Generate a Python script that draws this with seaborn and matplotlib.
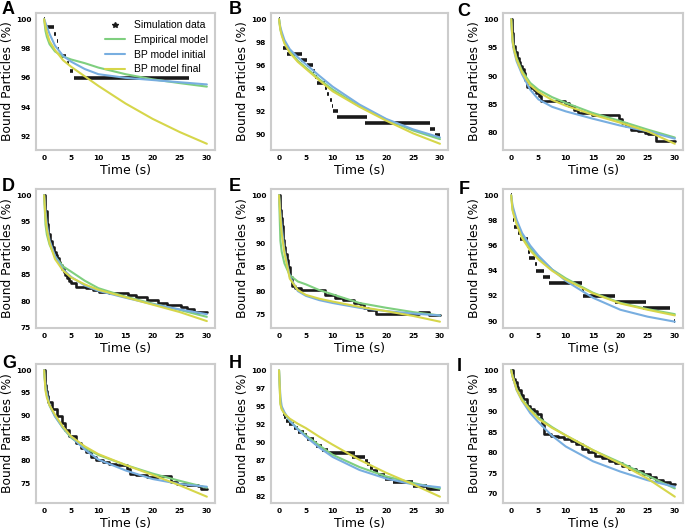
import matplotlib
matplotlib.use("Agg")
import matplotlib.pyplot as plt
from matplotlib.lines import Line2D
import seaborn as sns

# ---------------- data ----------------
T = [0, 0.25, 0.5, 1, 2, 3.5, 5, 7.5, 10, 15, 20, 25, 30]

# Panel A
a_emp = [100, 99.2, 98.8, 98.3, 97.8, 97.45, 97.25, 97.0, 96.7, 96.25, 95.9, 95.64, 95.4]
a_init = [100, 99.75, 99.5, 99.0, 98.2, 97.5, 97.1, 96.6, 96.25, 96.0, 95.85, 95.7, 95.55]
a_final = [100, 99.5, 99.1, 98.5, 97.9, 97.2, 96.75, 96.1, 95.45, 94.25, 93.2, 92.3, 91.5]
a_seg_start = [0, 0.4, 1.9, 2.3, 2.6, 3.1, 4.2, 4.7, 5.5]
a_seg_end = [0.2, 1.8, 2.1, 2.5, 2.8, 4.1, 4.6, 5.4, 26.7]
a_seg_level = [100, 99.5, 99, 98.5, 98, 97.5, 97, 96.5, 96]

# Panel B
b_emp = [100, 99.1, 98.7, 98.0, 97.2, 96.4, 95.8, 94.8, 93.9, 92.45, 91.3, 90.35, 89.6]
b_init = [100, 99.3, 98.9, 98.2, 97.4, 96.7, 96.1, 95.1, 94.15, 92.6, 91.35, 90.45, 89.75]
b_final = [100, 99.1, 98.6, 97.9, 97.1, 96.3, 95.7, 94.7, 93.75, 92.4, 91.2, 90.1, 89.2]
b_seg_start = [0, 0.2, 0.4, 0.55, 0.7, 1.4, 4.0, 5.2, 6.3, 6.7, 7.1, 8.6, 8.9, 9.5, 9.9, 10.1, 10.8, 16.0, 28.2, 29.1]
b_seg_end = [0.1, 0.35, 0.55, 0.7, 1.7, 4.2, 5.2, 6.3, 6.7, 7.0, 8.6, 8.9, 9.4, 9.8, 10.1, 10.9, 16.4, 28.2, 29.1, 30]
b_seg_level = [100, 99.5, 99, 98.5, 97.5, 97, 96.5, 96, 95.5, 95, 94.5, 94, 93.5, 93, 92.5, 92, 91.5, 91, 90.5, 90]

# Panel C
c_emp = [100, 96.5, 95.0, 93.2, 90.9, 88.8, 87.6, 86.3, 85.3, 83.5, 82.1, 80.6, 79.2]
c_init = [100, 96.0, 94.5, 92.6, 90.3, 87.6, 85.9, 84.6, 83.8, 82.5, 81.3, 80.3, 79.0]
c_final = [100, 96.2, 94.7, 92.9, 90.6, 88.4, 87.2, 85.8, 84.8, 83.2, 81.8, 80.3, 78.1]
c_sim_t = [0, 0.2, 0.4, 0.7, 1.1, 1.4, 1.7, 2.0, 2.3, 2.6, 2.9, 3.5, 4.2, 4.5, 5.1, 5.5, 9.8,
           10.6, 11.5, 12.3, 14.8, 19.8, 20.4, 21.0, 22.0, 23.3, 24.5, 25.0, 26.6, 30]
c_sim_y = [100, 97.5, 95.3, 94.2, 93.2, 92.5, 91.8, 91.2, 90.6, 89.4, 88.1, 87.9, 87.5, 87.0, 86.5,
           85.6, 85.3, 84.7, 84.0, 83.5, 83.2, 82.4, 81.8, 81.2, 80.6, 80.3, 80.0, 79.8, 78.5, 78.5]

# Panel D
d_emp = [100, 94.5, 92.6, 90.7, 88.5, 86.6, 85.6, 83.9, 82.5, 80.9, 79.6, 78.4, 77.1]
d_init = [100, 97.0, 94.5, 91.5, 88.6, 86.0, 84.6, 83.0, 82.0, 80.7, 79.5, 78.5, 77.6]
d_final = [100, 95.8, 93.6, 91.0, 88.0, 85.8, 84.5, 83.2, 82.2, 80.8, 79.4, 78.0, 76.3]
d_sim_t = [0, 0.25, 0.5, 0.8, 1.1, 1.4, 1.75, 2.1, 2.4, 2.7, 3.0, 3.3, 3.6, 3.9, 4.25, 4.6, 4.9,
           5.8, 7.7, 9.0, 10.2, 12.0, 15.5, 17.0, 19.0, 21.0, 22.7, 25.2, 26.4, 27.7, 30]
d_sim_y = [100, 97, 94.5, 92.8, 91.3, 90.3, 89.4, 88.8, 88.2, 87.5, 86.9, 86.2, 85.6, 85.0, 84.4,
           83.9, 83.4, 82.8, 82.5, 82.2, 81.8, 81.6, 81.3, 80.9, 80.3, 79.7, 79.3, 78.9, 78.5, 78.0, 78.0]

# Panel E
e_emp = [100, 90.5, 88.2, 85.8, 83.3, 82.0, 81.4, 80.2, 79.3, 77.5, 76.5, 75.6, 74.9]
e_init = [100, 96.5, 93.5, 88.5, 83.0, 80.0, 79.0, 78.1, 77.5, 76.5, 75.8, 75.3, 74.9]
e_final = [100, 95.5, 92.0, 88.0, 82.6, 80.2, 79.2, 78.4, 77.8, 76.7, 75.8, 74.8, 73.6]
e_sim_t = [0, 0.1, 0.2, 0.35, 0.5, 0.65, 0.8, 0.95, 1.1, 1.4, 1.7, 2.0, 2.4, 3.0, 4.0, 8.5, 10.5,
           12.0, 14.0, 15.0, 15.8, 16.6, 18.0, 26.0, 28.0, 30]
e_sim_y = [100, 98.5, 97, 95.2, 93.5, 92.0, 90.6, 89.2, 87.8, 86.4, 85, 82.9, 81.1, 80.6, 80.2,
           79.2, 78.6, 78.1, 77.6, 77.3, 76.4, 76.0, 75.3, 75.6, 75.1, 75.1]

# Panel F
f_emp = [100, 98.9, 98.5, 97.8, 96.8, 95.8, 95.1, 94.1, 93.4, 92.25, 91.45, 90.95, 90.55]
f_init = [100, 99.2, 98.8, 98.05, 97.0, 96.0, 95.2, 94.1, 93.2, 91.85, 90.9, 90.35, 89.95]
f_final = [100, 98.8, 98.4, 97.7, 96.6, 95.6, 94.9, 94.0, 93.3, 92.2, 91.4, 90.9, 90.45]
f_seg_start = [0, 0.1, 0.2, 0.3, 0.4, 0.5, 1.3, 1.6, 2.9, 3.0, 3.2, 4.4, 4.5, 5.9, 6.9, 12.9, 13.2, 19.0, 24.1, 29.9]
f_seg_end = [0.1, 0.2, 0.3, 0.4, 0.5, 1.3, 1.6, 3.0, 3.2, 3.4, 4.4, 4.75, 6.0, 7.1, 12.9, 13.4, 19.1, 24.8, 29.1, 30]
f_seg_level = [100, 99.5, 99, 98.5, 98, 97.5, 97, 96.5, 96, 95.5, 95, 94.5, 94, 93.5, 93, 92.5, 92, 91.5, 91, 90]

# Panel G
g_emp = [100, 96.0, 94.5, 92.2, 89.9, 87.2, 85.1, 82.9, 81.3, 79.1, 77.2, 75.6, 74.1]
g_init = [100, 96.5, 94.8, 92.3, 89.8, 87.3, 85.3, 82.5, 80.3, 77.9, 76.0, 74.9, 74.3]
g_final = [100, 95.5, 94.0, 92.3, 90.2, 87.5, 85.4, 83.2, 81.5, 79.1, 76.9, 74.6, 72.1]
g_sim_t = [0, 0.1, 0.2, 0.35, 0.5, 0.8, 1.4, 2.4, 3.3, 3.9, 4.6, 5.8, 6.75, 7.7, 8.6, 9.6, 10.8,
           12.0, 13.3, 15.2, 15.8, 17.0, 19.0, 21.0, 23.3, 24.5, 26.4, 28.3, 29.0, 30]
g_sim_y = [100, 98.5, 96.7, 95.5, 94.4, 93.0, 91.4, 89.9, 88.4, 86.9, 85.4, 83.9, 82.8, 82.0, 80.9,
           80.2, 79.8, 79.4, 79.1, 78.3, 77.2, 76.8, 76.4, 76.6, 75.3, 74.9, 74.7, 74.5, 73.8, 73.8]

# Panel H
h_emp = [100, 95.5, 94.7, 94.0, 93.0, 91.9, 91.0, 89.6, 88.3, 86.6, 85.3, 84.4, 83.6]
h_init = [100, 96.3, 95.0, 94.2, 93.0, 91.8, 90.8, 89.3, 88.0, 86.2, 85.0, 84.2, 83.8]
h_final = [100, 95.3, 94.6, 94.0, 93.3, 92.6, 92.0, 90.8, 89.7, 87.6, 85.8, 84.2, 82.5]
h_seg_start = [0, 0.05, 0.1, 0.15, 0.2, 0.25, 0.3, 0.5, 0.7, 1.0, 1.3, 1.9, 2.8, 3.6, 4.6, 5.3, 6.5,
               6.8, 8.0, 9.2, 13.6, 16.0, 16.4, 17.0, 17.6, 18.5, 19.8, 21.3, 25.0, 27.4]
h_seg_end = [0.05, 0.1, 0.15, 0.2, 0.25, 0.3, 0.5, 0.7, 1.0, 1.3, 1.9, 2.8, 3.6, 4.6, 5.3, 6.5, 7.0,
             8.0, 9.2, 14.2, 16.0, 16.6, 17.0, 17.6, 18.5, 19.8, 21.3, 25.0, 27.6, 30]
h_seg_level = [100, 99, 98, 97, 96, 95.5, 95, 94.5, 94, 93.5, 93, 92.5, 92, 91.5, 91, 90.5, 90,
               89.5, 89, 88.5, 88, 87.5, 87, 86.5, 86, 85.5, 85, 84.5, 84, 83.5]
h_yticks = [100, 97.5, 95, 92.5, 90, 87.5, 85, 82.5]
h_yticklabels = ["100", "97", "95", "92", "90", "87", "85", "82"]

# Panel I
i_emp = [100, 98.6, 97.6, 95.5, 93.0, 90.5, 88.5, 86.2, 84.2, 80.6, 77.6, 74.4, 71.3]
i_init = [100, 98.5, 97.4, 95.2, 92.6, 89.6, 87.4, 84.1, 81.5, 77.9, 75.4, 73.3, 71.7]
i_final = [100, 98.5, 97.5, 95.3, 92.7, 90.3, 88.2, 86.0, 84.2, 80.6, 77.3, 73.7, 69.3]
i_sim_t = [0, 0.25, 0.7, 1.0, 1.3, 1.8, 2.25, 2.9, 3.5, 4.1, 4.75, 5.4, 5.7, 6.0, 7.25, 8.5, 9.75,
           11.0, 11.9, 12.9, 14.1, 15.4, 16.6, 17.9, 19.1, 20.4, 21.6, 22.9, 24.1, 25.4, 26.6, 27.9, 29.1, 30]
i_sim_y = [100, 98, 97.1, 96, 95.1, 94.1, 93.1, 91.4, 90.6, 90.2, 89.4, 88.2, 86.6, 84.5, 84.1, 83.7,
           83.3, 82.9, 82.1, 80.9, 80.1, 79.2, 78.8, 78.0, 77.4, 76.8, 76.1, 75.6, 74.8, 74.0, 73.3,
           72.8, 72.3, 72.3]

x_ticks = [0, 5, 10, 15, 20, 25, 30]
yticks_2 = [92, 94, 96, 98, 100]
yticks_b = [90, 92, 94, 96, 98, 100]
yticks_5c = [80, 85, 90, 95, 100]
yticks_5d = [75, 80, 85, 90, 95, 100]
yticks_5i = [70, 75, 80, 85, 90, 95, 100]

legend_labels = ["Simulation data", "Empirical model", "BP model initial", "BP model final"]
x_label = "Time (s)"
y_label = "Bound Particles (%)"

# ---------------- style ----------------
sns.set_style("white")
plt.rcParams['font.family'] = ['DejaVu Sans']
plt.rcParams['text.color'] = 'black'
plt.rcParams['axes.labelcolor'] = 'black'
plt.rcParams['xtick.color'] = 'black'
plt.rcParams['ytick.color'] = 'black'

C_EMP = "#7fcf7f"
C_INIT = "#78aee0"
C_FINAL = "#d6d64a"
C_SIM = "#1a1a1a"

panels = [
    ("A", a_emp, a_init, a_final, ("seg", a_seg_start, a_seg_end, a_seg_level), yticks_2, None),
    ("B", b_emp, b_init, b_final, ("seg", b_seg_start, b_seg_end, b_seg_level), yticks_b, None),
    ("C", c_emp, c_init, c_final, ("step", c_sim_t, c_sim_y), yticks_5c, None),
    ("D", d_emp, d_init, d_final, ("step", d_sim_t, d_sim_y), yticks_5d, None),
    ("E", e_emp, e_init, e_final, ("step", e_sim_t, e_sim_y), yticks_5d, None),
    ("F", f_emp, f_init, f_final, ("seg", f_seg_start, f_seg_end, f_seg_level), yticks_b, None),
    ("G", g_emp, g_init, g_final, ("step", g_sim_t, g_sim_y), yticks_5d, None),
    ("H", h_emp, h_init, h_final, ("seg", h_seg_start, h_seg_end, h_seg_level), h_yticks, h_yticklabels),
    ("I", i_emp, i_init, i_final, ("step", i_sim_t, i_sim_y), yticks_5i, None),
]

W, H = 685, 532
fig = plt.figure(figsize=(W / 100, H / 100), dpi=100)

col_px = [(36, 215), (271, 448), (503, 683)]
row_px = [(13, 150), (189, 328), (364, 503)]
letter_px = [[(2, 1), (229, 1), (457, 3)],
             [(2, 178), (229, 178), (459, 181)],
             [(2, 355), (229, 355), (457, 358)]]
ylabel_offset_px = 22

for idx, (letter, emp, init, final, sim, yt, ytl) in enumerate(panels):
    r, c = divmod(idx, 3)
    x0, x1 = col_px[c]
    y0, y1 = row_px[r]
    ax = fig.add_axes([x0 / W, 1 - y1 / H, (x1 - x0) / W, (y1 - y0) / H])

    if sim[0] == "seg":
        ax.hlines(sim[3], sim[1], sim[2], color=C_SIM, linewidth=2.6, zorder=2)
    else:
        ax.step(sim[1], sim[2], where="post", color=C_SIM, linewidth=1.9, zorder=2)

    sns.lineplot(x=T, y=emp, color=C_EMP, linewidth=1.5, ax=ax, zorder=3)
    sns.lineplot(x=T, y=init, color=C_INIT, linewidth=1.5, ax=ax, zorder=3)
    sns.lineplot(x=T, y=final, color=C_FINAL, linewidth=1.5, ax=ax, zorder=3)

    ax.set_xticks(x_ticks)
    ax.set_yticks(yt)
    if ytl is not None:
        ax.set_yticklabels(ytl)
    for lab in ax.get_xticklabels() + ax.get_yticklabels():
        lab.set_fontweight("bold")
    ax.tick_params(axis="both", which="both", direction="out", length=0,
                   labelsize=5.3, pad=3.5, bottom=True, left=True, labelcolor="black")
    for sp in ax.spines.values():
        sp.set_color("#cccccc")
        sp.set_linewidth(1.5)
    ax.set_xlabel(x_label, fontsize=9, labelpad=2, color="black")
    ax.set_ylabel(y_label, fontsize=8.8, color="black")
    ax.yaxis.set_label_coords(-ylabel_offset_px / (x1 - x0), 0.5)

    lx, ly = letter_px[r][c]
    fig.text(lx / W, 1 - ly / H, letter, fontsize=13, fontweight="bold", color="black",
             family=["Liberation Sans", "DejaVu Sans"], va="top", ha="left")

    if letter == "A":
        handles = [
            Line2D([], [], color=C_SIM, marker="*", linestyle="None", markersize=4),
            Line2D([], [], color=C_EMP, linewidth=1.5),
            Line2D([], [], color=C_INIT, linewidth=1.5),
            Line2D([], [], color=C_FINAL, linewidth=1.5),
        ]
        leg = ax.legend(handles, legend_labels, loc="upper right", frameon=False,
                        prop={"family": ["Liberation Sans", "DejaVu Sans"], "size": 7.5},
                        borderaxespad=0.3, labelspacing=0.45, handlelength=2.0)
        for t in leg.get_texts():
            t.set_color("black")

fig.savefig("out.png", dpi=100)
